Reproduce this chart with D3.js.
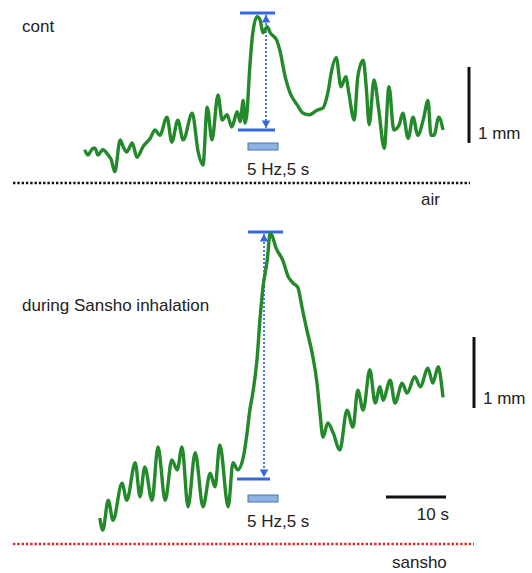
<!DOCTYPE html>
<html>
<head>
<meta charset="utf-8">
<script src="https://cdn.jsdelivr.net/npm/d3@7"></script>
<style>
  body { margin: 0; background: #fff; }
  text { font-family: "Liberation Sans", Arial, sans-serif; fill: #222; }
</style>
</head>
<body>
<svg id="chart" width="532" height="573"></svg>
<script>
// time in s (0 = stimulus onset), displacement in mm (0 = pre-stimulus level)
const contTime = [-27.2, -26.7, -26.3, -25.8, -25.5, -25, -24.2, -23.3, -22.8, -22.2, -21.3, -20.7, -20.2, -19.3,
  -18.5, -17.5, -16.3, -15.5, -14.7, -13.5, -12.7, -11.7, -10.8, -9.3, -8.3, -7.5, -6.8, -6, -5, -4.3, -3.5,
  -2.7, -1.8, -1.3, -0.8, -0.5, -0.2, 0.3, 0.8, 1.5, 2, 2.5, 3.2, 3.7, 4.8, 5.3, 6.2, 7, 8.2, 9.2, 10.2, 11.5,
  12.5, 13, 13.5, 13.8, 14.7, 15.5, 16.3, 16.8, 17.7, 18.3, 19.2, 19.7, 20.2, 21, 21.8, 22.7, 23.5, 24.3, 25.2,
  25.8, 26.7, 27.5, 28.3, 29.2, 30, 30.5, 31, 31.8, 32.5];
const contMm = [-0.26, -0.33, -0.29, -0.24, -0.24, -0.33, -0.26, -0.33, -0.39, -0.55, -0.13, -0.24, -0.29, -0.17,
  -0.36, -0.22, -0.11, 0, -0.07, 0.17, -0.16, 0.13, -0.13, 0.22, -0.29, -0.46, 0.30, -0.13, 0.46, 0.13, 0.20,
  0.04, 0.24, 0.11, 0.39, 0.09, 0.20, 0.83, 1.28, 1.49, 1.45, 1.28, 1.36, 1.28, 1.18, 1.05, 0.70, 0.49, 0.33,
  0.22, 0.20, 0.26, 0.29, 0.39, 0.57, 0.72, 0.95, 0.57, 0.70, 0.49, 0.13, 0.70, 0.92, 0.57, 0.07, 0.66, 0.26,
  -0.24, 0.57, 0, 0.07, 0.22, -0.11, 0.17, -0.07, 0.13, 0.39, -0.07, -0.07, 0.17, 0];

const sanshoTime = [-24.7, -24.2, -23.3, -22.5, -21, -20.2, -18.8, -18, -17.2, -16, -15, -13.8, -12.7, -11.8, -11,
  -10, -8.8, -7.5, -6.3, -5.5, -4.7, -3.3, -2.5, -1.7, -0.8, -0.2, 0.3, 0.8, 1.5, 2, 2.5, 3.2, 3.7, 4.8, 5.8,
  6.7, 7.5, 8.3, 9, 9.8, 10.7, 11.5, 12, 12.5, 13.3, 14.2, 15.3, 16.5, 17.5, 18.3, 19.2, 20.3, 21.2, 22, 22.5,
  23.7, 24.5, 25.7, 26.5, 27.8, 28.7, 30, 30.8, 31.7, 32.3, 32.5];
const sanshoMm = [-0.55, -0.72, -0.30, -0.58, -0.06, -0.30, 0.23, -0.25, 0.17, -0.30, 0.45, -0.30, 0.27, 0.13,
  0.45, -0.39, 0.37, -0.39, 0.08, -0.11, 0.48, -0.39, 0.23, 0.13, 0.30, 0.62, 0.97, 1.21, 1.68, 2.25, 2.70, 3.08,
  3.46, 3.23, 3.08, 2.85, 2.76, 2.70, 2.42, 2.10, 1.77, 1.35, 0.93, 0.59, 0.79, 0.65, 0.41, 0.97, 0.73, 1.25,
  0.97, 1.54, 1.07, 1.30, 1.11, 1.39, 1.07, 1.35, 1.21, 1.44, 1.30, 1.56, 1.35, 1.58, 1.30, 1.15];

const panelLabels = ["cont", "during Sansho inhalation"];
const gasLabels = ["air", "sansho"];
const peakMm = [1.54, 3.48];     // upper blue marker
const stimLabel = "5 Hz,5 s";
const stimDuration = 5;          // s
const scaleBarTime = 10;         // s
const scaleBarMm = 1;            // mm

const svg = d3.select("#chart");
const green = "#23892a", blue = "#3568e0";
const FS = 17;

const x = d3.scaleLinear().domain([0, 10]).range([248, 308]);
const yTop = d3.scaleLinear().domain([0, 1]).range([130, 54]);
const yBot = d3.scaleLinear().domain([0, 1]).range([479, 408]);

const defs = svg.append("defs");
["start", "end"].forEach(k => {
  defs.append("marker")
    .attr("id", "arr-" + k)
    .attr("viewBox", "0 0 10 10")
    .attr("refX", 5).attr("refY", k === "end" ? 9 : 1)
    .attr("markerWidth", 6).attr("markerHeight", 6)
    .attr("orient", "0")
    .append("path")
    .attr("d", k === "end" ? "M1,2 L9,2 L5,9 Z" : "M1,8 L9,8 L5,1 Z")
    .attr("fill", blue);
});

function drawPanel(time, mm, y, i, o) {
  const g = svg.append("g");
  const line = d3.line().x((d, j) => x(time[j])).y(d => y(d)).curve(d3.curveMonotoneX);

  // stimulus markers
  g.append("line").attr("x1", x(o.topFrom)).attr("x2", x(o.topTo))
    .attr("y1", y(peakMm[i])).attr("y2", y(peakMm[i]))
    .attr("stroke", blue).attr("stroke-width", 3);
  g.append("line").attr("x1", x(o.lowFrom)).attr("x2", x(o.lowTo))
    .attr("y1", y(0)).attr("y2", y(0))
    .attr("stroke", blue).attr("stroke-width", 3);
  g.append("line").attr("x1", x(o.arrowAt)).attr("x2", x(o.arrowAt))
    .attr("y1", y(peakMm[i]) + 2).attr("y2", y(0) - 2)
    .attr("stroke", blue).attr("stroke-width", 1.8)
    .attr("stroke-dasharray", "2,2")
    .attr("marker-start", "url(#arr-start)").attr("marker-end", "url(#arr-end)");

  // trace
  g.append("path").datum(mm).attr("d", line)
    .attr("fill", "none").attr("stroke", green)
    .attr("stroke-width", 3.4).attr("stroke-linejoin", "round");

  // stimulus bar
  g.append("rect").attr("x", x(0)).attr("y", o.stimY)
    .attr("width", x(stimDuration) - x(0)).attr("height", 7)
    .attr("fill", "#8db3e2").attr("stroke", "#4b72b0").attr("stroke-width", 1);
  g.append("text").attr("x", x(0) - 1).attr("y", o.stimY + 32)
    .attr("font-size", FS).text(stimLabel);

  // 1 mm scale bar
  g.append("line").attr("x1", o.barX).attr("x2", o.barX)
    .attr("y1", y(o.barFrom)).attr("y2", y(o.barFrom + scaleBarMm))
    .attr("stroke", "#111").attr("stroke-width", 3);
  g.append("text").attr("x", o.barX + 9).attr("y", y(o.barFrom) - 4)
    .attr("font-size", FS).text(scaleBarMm + " mm");

  // panel label
  g.append("text").attr("x", 22).attr("y", o.labelY)
    .attr("font-size", FS).text(panelLabels[i]);

  // gas baseline
  g.append("line").attr("x1", 13).attr("x2", o.dotTo)
    .attr("y1", o.dotY).attr("y2", o.dotY)
    .attr("stroke", o.dotColor).attr("stroke-width", 2.6)
    .attr("stroke-dasharray", "2.4,1.9");
  g.append("text").attr("x", o.gasX).attr("y", o.gasY)
    .attr("font-size", FS).text(gasLabels[i]);
}

drawPanel(contTime, contMm, yTop, 0, {
  topFrom: -1.33, topTo: 4.5, lowFrom: -1.67, lowTo: 4.5, arrowAt: 3,
  stimY: 143, barX: 469, barFrom: -0.17, labelY: 32,
  dotY: 183, dotTo: 470, dotColor: "#111", gasX: 421, gasY: 205
});
drawPanel(sanshoTime, sanshoMm, yBot, 1, {
  topFrom: 0, topTo: 5.83, lowFrom: -1.83, lowTo: 3.67, arrowAt: 2.67,
  stimY: 495, barX: 474, barFrom: 1, labelY: 311,
  dotY: 544, dotTo: 474, dotColor: "#e02a2a", gasX: 392, gasY: 568
});

// 10 s time bar
svg.append("line").attr("x1", x(23)).attr("x2", x(23 + scaleBarTime))
  .attr("y1", 497).attr("y2", 497)
  .attr("stroke", "#111").attr("stroke-width", 3);
svg.append("text").attr("x", x(23 + scaleBarTime) + 3).attr("y", 520)
  .attr("text-anchor", "end").attr("font-size", FS).text(scaleBarTime + " s");
</script>
</body>
</html>
